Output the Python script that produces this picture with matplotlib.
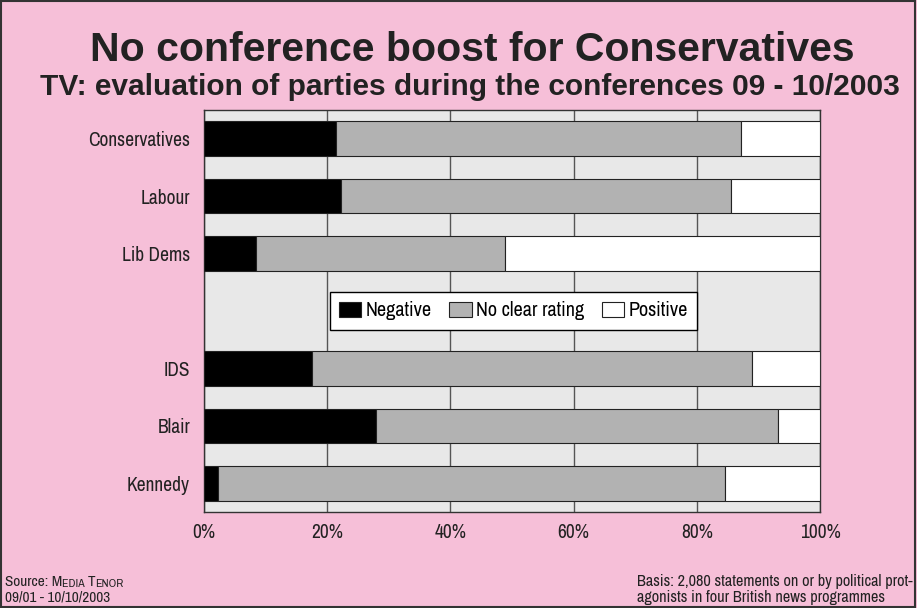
import numpy as np
import matplotlib
matplotlib.use("Agg")
import matplotlib.pyplot as plt
from matplotlib.patches import Rectangle
from matplotlib.text import Annotation

# values in percent
labels = ["Conservatives", "Labour", "Lib Dems", "", "IDS", "Blair", "Kennedy"]
negative = [21.5, 22.3, 8.5, 0, 17.5, 28.0, 2.3]
no_clear = [65.6, 63.3, 40.3, 0, 71.4, 65.2, 82.2]
positive = [12.9, 14.4, 51.2, 0, 11.1, 6.8, 15.5]
xticks = [0, 20, 40, 60, 80, 100]

PINK = "#f6bfd8"
INK = "#222222"
NARROW = ["Liberation Sans Narrow", "Archivo Narrow", "Roboto Condensed", "DejaVu Sans"]
BOLD = ["Liberation Sans", "DejaVu Sans"]

fig = plt.figure(figsize=(9.17, 6.08), dpi=100, facecolor=PINK)
ax = fig.add_axes([204 / 917, 1 - 512 / 608, 616 / 917, 402 / 608])
ax.set_facecolor("#e8e8e8")

y = np.arange(len(labels))
neg = np.array(negative)
nc = np.array(no_clear)
pos = np.array(positive)
mask = (neg + nc + pos) > 0

kw = dict(height=0.6, edgecolor="#222222", linewidth=0.8, zorder=3)
ax.barh(y[mask], neg[mask], color="black", label="Negative", **kw)
ax.barh(y[mask], nc[mask], left=neg[mask], color="#b2b2b2", label="No clear rating", **kw)
ax.barh(y[mask], pos[mask], left=(neg + nc)[mask], color="white", label="Positive", **kw)

ax.set_xlim(0, 100)
ax.set_ylim(len(labels) - 0.5, -0.5)
ax.set_yticks(y[mask])
ax.set_yticklabels([l for l, m in zip(labels, mask) if m], family=NARROW, fontsize=14, color=INK)
ax.set_xticks(xticks)
ax.set_xticklabels([f"{t}%" for t in xticks], family=NARROW, fontsize=14, color=INK)
ax.tick_params(length=0)
ax.tick_params(axis="y", pad=10)
ax.tick_params(axis="x", pad=8)
ax.xaxis.grid(True, color="#555555", linewidth=1.0, zorder=1)
ax.set_axisbelow(True)
for s in ax.spines.values():
    s.set_color("#333333")
    s.set_linewidth(1.0)

leg = ax.legend(loc="center", bbox_to_anchor=(0.502, 0.5), ncol=3, frameon=True,
                fancybox=False, prop={"family": NARROW, "size": 14.5}, handlelength=1.1,
                handleheight=0.7, handletextpad=0.2, columnspacing=0.9,
                borderpad=0.45, edgecolor="black", framealpha=1)
leg.get_frame().set_linewidth(1.0)
leg.set_zorder(5)

fig.text(0.515, 1 - 50 / 608, "No conference boost for Conservatives",
         ha="center", va="center", fontsize=29.5, fontweight="bold", family=BOLD, color=INK)
fig.text(0.513, 1 - 87 / 608, "TV: evaluation of parties during the conferences 09 - 10/2003",
         ha="center", va="center", fontsize=21.5, fontweight="bold", family=BOLD, color=INK)

# footer, source name in small caps
prev = fig.text(5 / 917, 1 - 586 / 608, "Source: M", fontsize=11, family=NARROW,
                color=INK, va="baseline")
for txt, sz in [("EDIA ", 8.5), ("T", 11), ("ENOR", 8.5)]:
    prev = fig.add_artist(Annotation(txt, xy=(1, 0), xycoords=prev, va="bottom",
                                     fontsize=sz, family=NARROW, color=INK))
fig.text(5 / 917, 1 - 602 / 608, "09/01 - 10/10/2003", fontsize=11, family=NARROW,
         color=INK, va="baseline")
fig.text(637 / 917, 1 - 586 / 608, "Basis: 2,080 statements on or by political prot-",
         fontsize=11.7, family=NARROW, color=INK, va="baseline")
fig.text(637 / 917, 1 - 602 / 608, "agonists in four British news programmes",
         fontsize=11.7, family=NARROW, color=INK, va="baseline")

fig.add_artist(Rectangle((0.001, 0.002), 0.997, 0.996, transform=fig.transFigure,
                         fill=False, edgecolor="#333333", linewidth=1.5))

fig.savefig("out.png", dpi=100, facecolor=PINK)
